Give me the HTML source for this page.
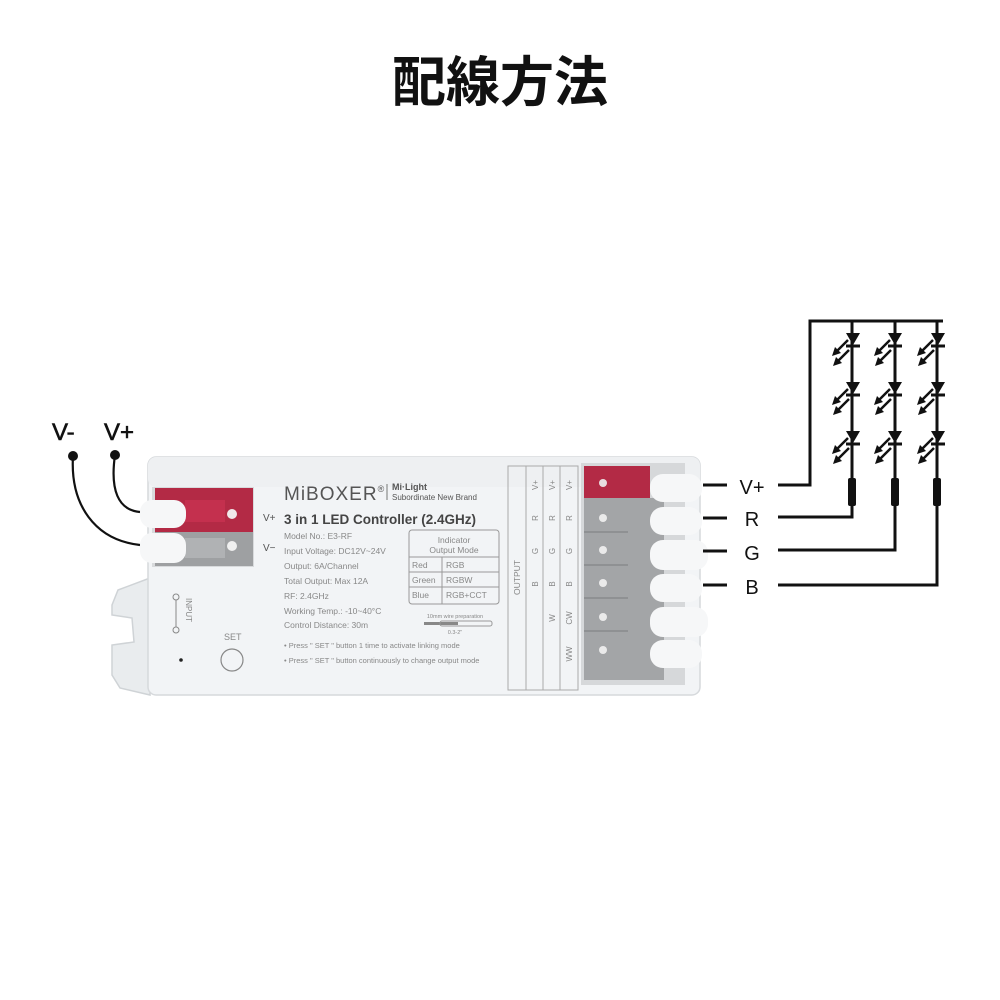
<!DOCTYPE html>
<html><head><meta charset="utf-8"><style>
html,body{margin:0;padding:0;background:#fff;}
svg{display:block}
text{font-family:"Liberation Sans","Noto Sans CJK JP",sans-serif;}
</style></head><body>
<svg width="1000" height="1000" viewBox="0 0 1000 1000" xmlns="http://www.w3.org/2000/svg">
<text x="500" y="101" text-anchor="middle" font-size="54" font-weight="bold" fill="#111" font-family="'Noto Sans CJK JP',sans-serif">配線方法</text>

<text x="52" y="440" font-size="24" fill="#111" stroke="#111" stroke-width="0.6">V-</text>
<text x="104" y="440" font-size="24" fill="#111" stroke="#111" stroke-width="0.6">V+</text>
<circle cx="73" cy="456" r="5" fill="#111"/>
<circle cx="115" cy="455" r="5" fill="#111"/>
<path d="M73 456 C70 505 95 540 140 545" fill="none" stroke="#111" stroke-width="2.2"/>
<path d="M115 455 C110 490 118 510 140 512" fill="none" stroke="#111" stroke-width="2.2"/>

<path d="M150 578 L118 590 L112 605 L112 615 L132 618 L134 642 L112 645 L112 675 L120 688 L150 695 Z" fill="#e9ecee" stroke="#cfd3d6" stroke-width="1.5"/>
<rect x="148" y="457" width="552" height="238" rx="8" fill="#f2f4f6" stroke="#d6d9dc" stroke-width="1.5"/>
<rect x="148" y="457" width="552" height="30" rx="8" fill="#eef0f2"/>
<rect x="152" y="487" width="102" height="80" fill="#d8dadc"/>
<rect x="155" y="488" width="98" height="44" fill="#b32a45"/>
<rect x="155" y="532" width="98" height="34" fill="#9ea0a2"/>
<rect x="185" y="500" width="40" height="22" fill="#c4304e"/>
<rect x="185" y="538" width="40" height="20" fill="#b0b2b4"/>
<circle cx="232" cy="514" r="5" fill="#f0e8ea"/>
<circle cx="232" cy="546" r="5" fill="#f0f0f0"/>
<rect x="140" y="500" width="46" height="28" rx="12" fill="#f6f7f8"/>
<rect x="140" y="533" width="46" height="30" rx="12" fill="#f6f7f8"/>
<text x="263" y="521" font-size="10" fill="#555">V+</text>
<text x="263" y="551" font-size="10" fill="#555">V−</text>

<text x="284" y="500" font-size="19" fill="#555" letter-spacing="1">MiBOXER<tspan font-size="9" dy="-8">®</tspan></text>
<line x1="387" y1="484" x2="387" y2="500" stroke="#777" stroke-width="1"/>
<text x="392" y="490" font-size="9" font-weight="bold" fill="#555" font-family="'Liberation Serif',serif">Mi·Light</text>
<text x="392" y="500" font-size="8" fill="#555" font-family="'Liberation Serif',serif">Subordinate New Brand</text>
<text x="284" y="524" font-size="13.5" font-weight="bold" fill="#444">3 in 1 LED Controller (2.4GHz)</text>
<g font-size="8.5" fill="#888">
<text x="284" y="539">Model No.: E3-RF</text>
<text x="284" y="554">Input Voltage: DC12V~24V</text>
<text x="284" y="569">Output: 6A/Channel</text>
<text x="284" y="584">Total Output: Max 12A</text>
<text x="284" y="599">RF: 2.4GHz</text>
<text x="284" y="614">Working Temp.: -10~40°C</text>
<text x="284" y="628">Control Distance: 30m</text>
<text x="284" y="648" font-size="7.5">• Press " SET " button 1 time to activate linking mode</text>
<text x="284" y="663" font-size="7.5">• Press " SET " button continuously to change output mode</text>
</g>
<rect x="409" y="530" width="90" height="74" rx="3" fill="none" stroke="#999" stroke-width="1"/>
<line x1="409" y1="557" x2="499" y2="557" stroke="#999"/>
<line x1="409" y1="572" x2="499" y2="572" stroke="#999"/>
<line x1="409" y1="587" x2="499" y2="587" stroke="#999"/>
<line x1="442" y1="557" x2="442" y2="604" stroke="#999"/>
<g font-size="8.5" fill="#888">
<text x="454" y="543" text-anchor="middle">Indicator</text>
<text x="454" y="553" text-anchor="middle">Output Mode</text>
<text x="412" y="568">Red</text><text x="446" y="568">RGB</text>
<text x="412" y="583">Green</text><text x="446" y="583">RGBW</text>
<text x="412" y="598">Blue</text><text x="446" y="598">RGB+CCT</text>
</g>
<text x="455" y="618" font-size="5.5" fill="#888" text-anchor="middle">10mm wire preparation</text>
<rect x="424" y="622" width="34" height="3" fill="#888"/>
<rect x="440" y="621" width="52" height="5" rx="2" fill="none" stroke="#999"/>
<text x="455" y="634" font-size="5.5" fill="#888" text-anchor="middle">0.3-2"</text>
<circle cx="176" cy="597" r="3" fill="none" stroke="#888"/>
<circle cx="176" cy="630" r="3" fill="none" stroke="#888"/>
<line x1="176" y1="600" x2="176" y2="627" stroke="#888"/>
<text x="186" y="598" font-size="8" fill="#888" transform="rotate(90 186 598)">INPUT</text>
<text x="224" y="640" font-size="9" fill="#888">SET</text>
<circle cx="232" cy="660" r="11" fill="none" stroke="#888" stroke-width="1.2"/>
<circle cx="181" cy="660" r="1.8" fill="#222"/>

<rect x="508" y="466" width="70" height="224" fill="none" stroke="#aaa" stroke-width="1"/>
<line x1="526" y1="466" x2="526" y2="690" stroke="#aaa"/>
<line x1="543" y1="466" x2="543" y2="690" stroke="#aaa"/>
<line x1="560" y1="466" x2="560" y2="690" stroke="#aaa"/>
<text x="520" y="595" font-size="8.5" fill="#888" transform="rotate(-90 520 595)">OUTPUT</text>
<g font-size="8" fill="#888" text-anchor="middle">
<text transform="translate(538,485) rotate(-90)">V+</text><text transform="translate(555,485) rotate(-90)">V+</text><text transform="translate(572,485) rotate(-90)">V+</text>
<text transform="translate(538,518) rotate(-90)">R</text><text transform="translate(555,518) rotate(-90)">R</text><text transform="translate(572,518) rotate(-90)">R</text>
<text transform="translate(538,551) rotate(-90)">G</text><text transform="translate(555,551) rotate(-90)">G</text><text transform="translate(572,551) rotate(-90)">G</text>
<text transform="translate(538,584) rotate(-90)">B</text><text transform="translate(555,584) rotate(-90)">B</text><text transform="translate(572,584) rotate(-90)">B</text>
<text transform="translate(555,618) rotate(-90)">W</text><text transform="translate(572,618) rotate(-90)">CW</text>
<text transform="translate(572,654) rotate(-90)">WW</text>
</g>

<rect x="581" y="463" width="104" height="222" fill="#d6d8da"/>
<rect x="584" y="466" width="66" height="32" fill="#b32a45"/>
<rect x="584" y="498" width="80" height="182" fill="#a3a5a7"/>
<g fill="#8f9193">
<rect x="584" y="531" width="44" height="2"/><rect x="584" y="564" width="44" height="2"/><rect x="584" y="597" width="44" height="2"/><rect x="584" y="630" width="44" height="2"/>
</g>
<g fill="#eaeaea">
<circle cx="603" cy="483" r="4" fill="#e8dcdf"/>
<circle cx="603" cy="518" r="4"/><circle cx="603" cy="550" r="4"/><circle cx="603" cy="583" r="4"/><circle cx="603" cy="617" r="4"/><circle cx="603" cy="650" r="4"/>
</g>
<g fill="#f6f7f8">
<rect x="650" y="474" width="52" height="28" rx="13"/>
<rect x="650" y="507" width="52" height="28" rx="13"/>
<rect x="650" y="540" width="58" height="30" rx="13"/>
<rect x="650" y="574" width="52" height="28" rx="13"/>
<rect x="650" y="607" width="58" height="30" rx="13"/>
<rect x="650" y="640" width="52" height="28" rx="13"/>
</g>

<g stroke="#111" stroke-width="3" fill="none">
<line x1="703" y1="485" x2="727" y2="485"/>
<line x1="703" y1="518" x2="727" y2="518"/>
<line x1="703" y1="551" x2="727" y2="551"/>
<line x1="703" y1="585" x2="727" y2="585"/>
<polyline points="778,485 810,485 810,321 943,321"/>
<polyline points="778,517 852,517 852,321"/>
<polyline points="778,550 895,550 895,321"/>
<polyline points="778,585 937,585 937,321"/>
</g>
<g fill="#111" stroke="none">
<rect x="848" y="478" width="8" height="28" rx="2"/>
<rect x="891" y="478" width="8" height="28" rx="2"/>
<rect x="933" y="478" width="8" height="28" rx="2"/>
</g>
<g font-size="20" fill="#111" text-anchor="middle">
<text x="752" y="494">V+</text>
<text x="752" y="526">R</text>
<text x="752" y="560">G</text>
<text x="752" y="594">B</text>
</g>
<defs>
<g id="led">
<path d="M-7 -10 L7 -10 L0 2 Z" fill="#111"/>
<line x1="-7" y1="3" x2="7" y2="3" stroke="#111" stroke-width="3"/>
<line x1="-5" y1="-3" x2="-17" y2="9" stroke="#111" stroke-width="2.5"/>
<path d="M-21 13 L-18 4 L-12 10 Z" fill="#111"/>
<line x1="-4" y1="7" x2="-16" y2="19" stroke="#111" stroke-width="2.5"/>
<path d="M-20 23 L-17 14 L-11 20 Z" fill="#111"/>
</g>
</defs>
<use href="#led" x="853" y="343"/><use href="#led" x="853" y="392"/><use href="#led" x="853" y="441"/>
<use href="#led" x="895" y="343"/><use href="#led" x="895" y="392"/><use href="#led" x="895" y="441"/>
<use href="#led" x="938" y="343"/><use href="#led" x="938" y="392"/><use href="#led" x="938" y="441"/>
</svg>
</body></html>
